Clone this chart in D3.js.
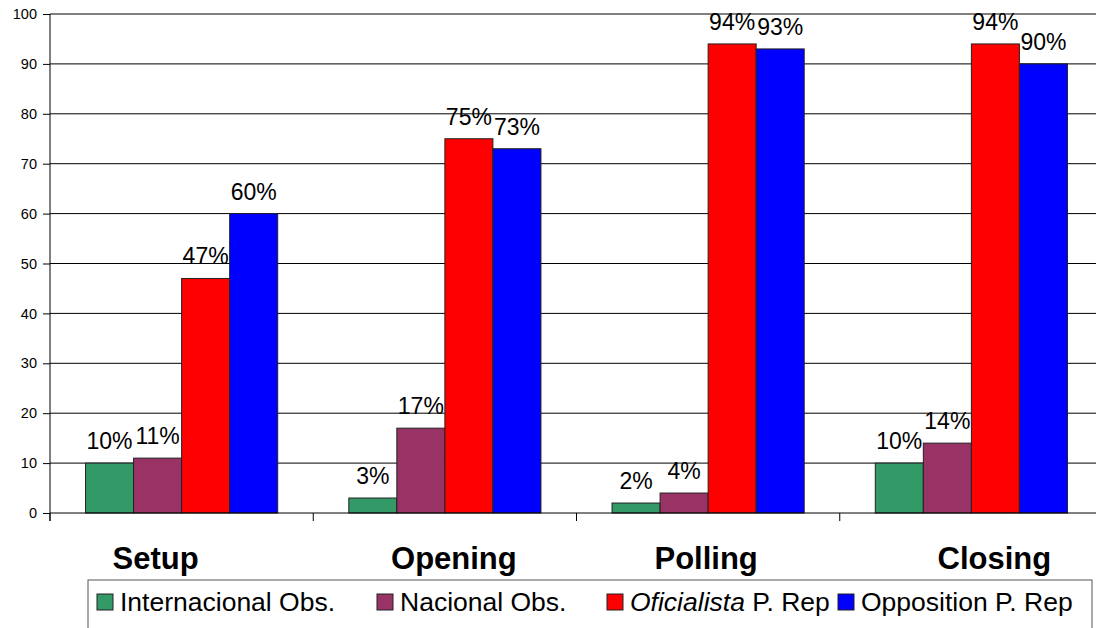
<!DOCTYPE html>
<html>
<head>
<meta charset="utf-8">
<script src="https://cdn.jsdelivr.net/npm/d3@7"></script>
<style>
  body { margin: 0; background: #fff; }
  svg { display: block; font-family: Arial, "Liberation Sans", sans-serif; }
</style>
</head>
<body>
<div id="chart"></div>
<script>
// data
const categories = ['Setup', 'Opening', 'Polling', 'Closing'];
const seriesNames = ['Internacional Obs.', 'Nacional Obs.', 'Oficialista P. Rep', 'Opposition P. Rep'];
const internacional = [10, 3, 2, 10];
const nacional = [11, 17, 4, 14];
const oficialista = [47, 75, 94, 94];
const opposition = [60, 73, 93, 90];
const yTicks = [0, 10, 20, 30, 40, 50, 60, 70, 80, 90, 100];

const seriesValues = [internacional, nacional, oficialista, opposition];
const colors = ['#339966', '#993366', '#ff0000', '#0000ff'];
// category labels in the original sit a bit off-centre
const labelShift = [-26, 9, -2, 23];

const width = 1096;
const height = 628;
const margin = {left: 50, top: 14, right: -7, bottom: 115};

const svg = d3.select('#chart')
    .append('svg')
    .attr('width', width)
    .attr('height', height);

const x0 = d3.scaleBand()
    .domain(categories)
    .range([margin.left, width - margin.right])
    .paddingInner(0);

const x1 = d3.scaleBand()
    .domain(d3.range(seriesNames.length))
    .range([0, x0.bandwidth()])
    .paddingInner(0)
    .paddingOuter(0.74);

const y = d3.scaleLinear()
    .domain([0, 100])
    .range([height - margin.bottom, margin.top]);

// gridlines
svg.append('g')
    .selectAll('line')
    .data(yTicks.filter(d => d > 0))
    .enter()
    .append('line')
    .attr('x1', margin.left)
    .attr('x2', width - margin.right)
    .attr('y1', d => y(d))
    .attr('y2', d => y(d))
    .attr('stroke', '#000')
    .attr('stroke-width', 1);

// bars
const groups = svg.append('g')
    .selectAll('g')
    .data(categories)
    .enter()
    .append('g')
    .attr('transform', d => 'translate(' + x0(d) + ',0)');

groups.selectAll('rect')
    .data((c, ci) => seriesValues.map((vals, si) => ({si: si, v: vals[ci]})))
    .enter()
    .append('rect')
    .attr('x', d => x1(d.si))
    .attr('width', x1.bandwidth())
    .attr('y', d => y(d.v))
    .attr('height', d => y(0) - y(d.v))
    .attr('fill', d => colors[d.si])
    .attr('stroke', '#222')
    .attr('stroke-width', 1);

groups.selectAll('text')
    .data((c, ci) => seriesValues.map((vals, si) => ({si: si, v: vals[ci]})))
    .enter()
    .append('text')
    .attr('x', d => x1(d.si) + x1.bandwidth() / 2)
    .attr('y', d => y(d.v) - 14)
    .attr('text-anchor', 'middle')
    .attr('font-size', '23px')
    .attr('fill', '#000')
    .text(d => d.v + '%');

// y axis
const yAxis = svg.append('g')
    .attr('transform', 'translate(' + margin.left + ',0)')
    .call(d3.axisLeft(y).tickValues(yTicks).tickSize(7).tickPadding(6));
yAxis.select('.domain').attr('d', 'M0,' + y(100) + 'V' + (y(0) + 8)).attr('stroke', '#000');
yAxis.selectAll('text').attr('font-size', '14.5px').attr('font-family', 'Arial, "Liberation Sans", sans-serif').attr('fill', '#000');

// x axis: category boundary ticks
const xAxis = svg.append('g');
xAxis.append('line')
    .attr('x1', margin.left)
    .attr('x2', width - margin.right)
    .attr('y1', y(0))
    .attr('y2', y(0))
    .attr('stroke', '#000');
xAxis.selectAll('.bound')
    .data(categories.concat(['end']))
    .enter()
    .append('line')
    .attr('x1', (d, i) => margin.left + i * x0.step())
    .attr('x2', (d, i) => margin.left + i * x0.step())
    .attr('y1', y(0))
    .attr('y2', y(0) + 8)
    .attr('stroke', '#000');

xAxis.selectAll('.cat')
    .data(categories)
    .enter()
    .append('text')
    .attr('x', (d, i) => x0(d) + x0.bandwidth() / 2 + labelShift[i])
    .attr('y', 569)
    .attr('text-anchor', 'middle')
    .attr('font-size', '31px')
    .attr('font-weight', 'bold')
    .text(d => d);

// legend
const legend = svg.append('g');
legend.append('rect')
    .attr('x', 88)
    .attr('y', 580)
    .attr('width', 1004)
    .attr('height', 60)
    .attr('fill', '#fff')
    .attr('stroke', '#555')
    .attr('stroke-width', 1);

const legendX = [97, 377, 607, 838];
const items = legend.selectAll('.item')
    .data(seriesNames)
    .enter()
    .append('g')
    .attr('transform', (d, i) => 'translate(' + legendX[i] + ',594)');

items.append('rect')
    .attr('width', 16)
    .attr('height', 16)
    .attr('fill', (d, i) => colors[i])
    .attr('stroke', '#222')
    .attr('stroke-width', 1);

items.append('text')
    .attr('x', 23)
    .attr('y', 17)
    .attr('font-size', '26.5px')
    .each(function(d) {
        const t = d3.select(this);
        if (d.startsWith('Oficialista')) {
            t.append('tspan').attr('font-style', 'italic').text('Oficialista');
            t.append('tspan').text(' P. Rep');
        } else {
            t.text(d);
        }
    });
</script>
</body>
</html>
